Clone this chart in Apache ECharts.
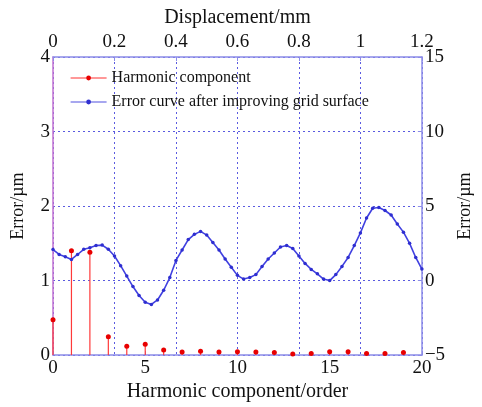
<!DOCTYPE html>
<html>
<head>
<meta charset="utf-8">
<script src="https://cdn.jsdelivr.net/npm/echarts@6/dist/echarts.min.js"></script>
<style>html,body{margin:0;padding:0;background:#fff;}#c{width:482px;height:407px;}</style>
</head>
<body>
<div id="c"></div>
<script>
// Harmonic component (order 0..19), left axis Error/µm
const harmonicOrders = [0,1,2,3,4,5,6,7,8,9,10,11,12,13,14,15,16,17,18,19];
const harmonicValues = [0.475,1.40,1.38,0.245,0.12,0.145,0.07,0.04,0.05,0.04,0.045,0.04,0.035,0.015,0.02,0.045,0.045,0.02,0.02,0.035];

// Error curve after improving grid surface: displacement (mm) vs error (µm), right axis
const displacement = [0.00,0.02,0.04,0.06,0.08,0.10,0.12,0.14,0.16,0.18,0.20,0.22,0.24,0.26,0.28,0.30,0.32,0.34,0.36,0.38,0.40,0.42,0.44,0.46,0.48,0.50,0.52,0.54,0.56,0.58,0.60,0.62,0.64,0.66,0.68,0.70,0.72,0.74,0.76,0.78,0.80,0.82,0.84,0.86,0.88,0.90,0.92,0.94,0.96,0.98,1.00,1.02,1.04,1.06,1.08,1.10,1.12,1.14,1.16,1.18,1.20];
const errorCurve = [2.08,1.75,1.60,1.42,1.75,2.10,2.20,2.35,2.38,2.10,1.65,1.00,0.30,-0.40,-1.00,-1.45,-1.60,-1.30,-0.65,0.20,1.35,2.05,2.75,3.10,3.30,3.05,2.55,2.05,1.45,0.90,0.35,0.10,0.20,0.40,0.95,1.45,1.85,2.25,2.35,2.15,1.65,1.15,0.75,0.45,0.10,0.00,0.40,0.95,1.55,2.35,3.20,4.20,4.85,4.90,4.70,4.40,3.80,3.25,2.50,1.55,0.77];

const bottomTicks = {min:0, max:20, interval:5};
const topTicks = {min:0, max:1.2, interval:0.2};
const leftTicks = {min:0, max:4, interval:1};
const rightTicks = {min:-5, max:15, interval:5};

const FONT = 'Liberation Serif';
const frameColor = '#8c8ce8';
const gridColor = '#5a5ae0';
const txt = '#111';

const chart = echarts.init(document.getElementById('c'), null, {renderer:'canvas'});
const stemData = harmonicOrders.map((x,i)=>[x, harmonicValues[i]]);
const curveData = displacement.map((x,i)=>[x, errorCurve[i]]);

chart.setOption({
  animation:false,
  backgroundColor:'#fff',
  grid:{left:53, right:41, top:57, bottom:49, containLabel:false},
  legend:{
    orient:'vertical', left:65, top:65, itemWidth:36, itemHeight:6, itemGap:8,
    textStyle:{fontFamily:FONT, fontSize:16, color:txt},
    data:[
      {name:'Harmonic component', itemStyle:{color:'#e80000'}, lineStyle:{color:'#ff3030', width:1, opacity:1}},
      {name:'Error curve after improving grid surface', itemStyle:{color:'#3030d0'}, lineStyle:{color:'#5050e0', width:1.2}}
    ]
  },
  xAxis:[
    {type:'value', position:'bottom', min:bottomTicks.min, max:bottomTicks.max, interval:bottomTicks.interval,
     name:'Harmonic component/order', nameLocation:'middle', nameGap:24,
     nameTextStyle:{fontFamily:FONT, fontSize:20, color:txt},
     axisLine:{show:true, onZero:false, lineStyle:{color:frameColor, width:1.5}},
     axisTick:{show:true, inside:true, length:4, lineStyle:{color:frameColor}},
     axisLabel:{fontFamily:FONT, fontSize:19, color:txt, margin:3},
     splitLine:{show:false}},
    {type:'value', position:'top', min:topTicks.min, max:topTicks.max, interval:topTicks.interval,
     name:'Displacement/mm', nameLocation:'middle', nameGap:28,
     nameTextStyle:{fontFamily:FONT, fontSize:20, color:txt},
     axisLine:{show:true, onZero:false, lineStyle:{color:frameColor, width:1.5}},
     axisTick:{show:true, inside:true, length:4, lineStyle:{color:frameColor}},
     axisLabel:{fontFamily:FONT, fontSize:19, color:txt, margin:5},
     splitLine:{show:true, lineStyle:{color:gridColor, type:[2,3], width:1}}}
  ],
  yAxis:[
    {type:'value', position:'left', min:leftTicks.min, max:leftTicks.max, interval:leftTicks.interval,
     name:'Error/µm', nameLocation:'middle', nameGap:26, nameRotate:90,
     nameTextStyle:{fontFamily:FONT, fontSize:18, color:txt},
     axisLine:{show:true, onZero:false, lineStyle:{color:'#c070d0', width:1.5}},
     axisTick:{show:false},
     axisLabel:{fontFamily:FONT, fontSize:19, color:txt, margin:3},
     splitLine:{show:true, lineStyle:{color:gridColor, type:[2,3], width:1}}},
    {type:'value', position:'right', min:rightTicks.min, max:rightTicks.max, interval:rightTicks.interval,
     name:'Error/µm', nameLocation:'middle', nameGap:33, nameRotate:90,
     nameTextStyle:{fontFamily:FONT, fontSize:18, color:txt},
     axisLine:{show:true, onZero:false, lineStyle:{color:frameColor, width:1.5}},
     axisTick:{show:true, inside:true, length:4, lineStyle:{color:frameColor}},
     axisLabel:{fontFamily:FONT, fontSize:19, color:txt, margin:3,
       formatter:v=>String(v).replace('-', '\u2212')},
     splitLine:{show:false}}
  ],
  series:[
    {name:'stems', type:'bar', xAxisIndex:0, yAxisIndex:0, data:stemData, barWidth:1.2,
     itemStyle:{color:'#ff3a3a'}, silent:true, legendHoverLink:false, z:2},
    {name:'Harmonic component', type:'line', xAxisIndex:0, yAxisIndex:0, data:stemData,
     symbol:'circle', symbolSize:5, itemStyle:{color:'#e80000'},
     lineStyle:{width:0, opacity:0}, z:3},
    {name:'Error curve after improving grid surface', type:'line', xAxisIndex:1, yAxisIndex:1, data:curveData,
     symbol:'circle', symbolSize:3.5, showSymbol:true, smooth:false,
     itemStyle:{color:'#2e2ed0'}, lineStyle:{color:'#4040e0', width:1.6}, z:4}
  ]
});
</script>
</body>
</html>
